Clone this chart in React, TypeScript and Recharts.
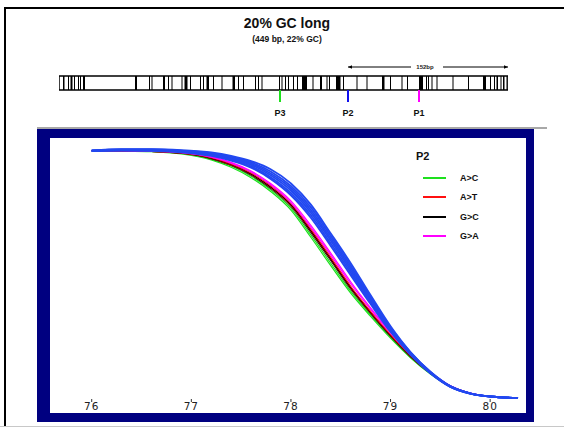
import React from 'react';
import {
  LineChart, Line, XAxis, YAxis, Legend,
  ComposedChart, ReferenceArea, ReferenceLine, Scatter,
} from 'recharts';

// ---------- barcode (sequence map) data, positions in bp ----------
const seqLength = 449;
const barStarts = [4, 9, 11.5, 15, 19, 21, 24, 76, 90, 92.5, 104, 109, 112.5, 122.5, 125.5, 131, 141, 144, 147.5, 154, 162.5, 173.5, 179, 184, 196, 199, 202.5, 220, 222.5, 226, 229, 234, 238, 243, 253.5, 261, 267.5, 270, 277, 284, 297.5, 307.5, 323, 331, 342.5, 348, 360, 367, 369, 372.5, 377.5, 393.5, 409, 424, 431, 435, 437.5, 441.5, 444, 447.5];
const barWidths = [1.5, 1, 2, 1, 1, 1, 2, 2, 1, 1, 2, 1, 1, 1, 3, 1, 1, 1, 2.5, 1, 1, 2.5, 1, 1, 1, 1, 1, 1, 1, 1, 1, 1, 1, 5, 1, 2, 1, 1, 4.5, 1, 1, 1, 2.5, 1, 1, 1, 4, 1, 1, 1, 1, 1, 1, 3, 1, 1, 1.5, 1, 1.5, 1];
const probeNames = ['P3', 'P2', 'P1'];
const probePositions = [221, 289, 360];
const probeColors = ['#1ee01e', '#1010ee', '#ff00ff'];
const spanStart = 289;
const spanEnd = 449;
const spanLabel = '152bp';
const spanLabelPos = 366;

// ---------- melt curve data ----------
const temps = [76.0, 76.3, 76.6, 76.9, 77.2, 77.4, 77.6, 77.8, 78.0, 78.2, 78.4, 78.6, 78.8, 79.0, 79.2, 79.4, 79.6, 79.8, 80.0, 80.28];
const green1 = [1.000, 0.999, 0.996, 0.987, 0.963, 0.933, 0.891, 0.834, 0.760, 0.650, 0.535, 0.424, 0.330, 0.242, 0.163, 0.097, 0.046, 0.019, 0.006, 0.000];
const green2 = [1.000, 0.999, 0.997, 0.989, 0.966, 0.938, 0.897, 0.841, 0.768, 0.660, 0.545, 0.432, 0.336, 0.246, 0.166, 0.099, 0.047, 0.019, 0.006, 0.000];
const red1 = [1.000, 0.999, 0.997, 0.990, 0.969, 0.942, 0.904, 0.850, 0.779, 0.674, 0.560, 0.444, 0.344, 0.252, 0.169, 0.100, 0.047, 0.019, 0.006, 0.000];
const red2 = [1.000, 1.000, 0.998, 0.992, 0.972, 0.947, 0.910, 0.857, 0.787, 0.683, 0.569, 0.452, 0.350, 0.256, 0.172, 0.102, 0.048, 0.019, 0.006, 0.000];
const black1 = [1.000, 0.999, 0.997, 0.990, 0.968, 0.941, 0.902, 0.847, 0.776, 0.670, 0.556, 0.441, 0.342, 0.250, 0.168, 0.100, 0.047, 0.019, 0.006, 0.000];
const black2 = [1.000, 1.000, 0.998, 0.991, 0.970, 0.944, 0.906, 0.852, 0.782, 0.677, 0.563, 0.447, 0.346, 0.253, 0.170, 0.101, 0.048, 0.019, 0.006, 0.000];
const magenta1 = [1.000, 1.000, 0.998, 0.992, 0.974, 0.950, 0.914, 0.861, 0.790, 0.690, 0.578, 0.462, 0.358, 0.262, 0.176, 0.104, 0.049, 0.020, 0.006, 0.000];
const magenta2 = [1.000, 1.000, 0.999, 0.993, 0.976, 0.953, 0.918, 0.866, 0.797, 0.698, 0.586, 0.470, 0.364, 0.266, 0.178, 0.105, 0.049, 0.020, 0.006, 0.000];
const blue1 = [1.000, 1.006, 1.006, 1.002, 0.993, 0.979, 0.958, 0.924, 0.868, 0.782, 0.665, 0.545, 0.415, 0.290, 0.186, 0.106, 0.048, 0.019, 0.006, 0.000];
const blue2 = [1.000, 1.005, 1.005, 1.000, 0.990, 0.975, 0.953, 0.915, 0.857, 0.771, 0.655, 0.535, 0.407, 0.285, 0.184, 0.105, 0.047, 0.019, 0.006, 0.000];
const blue3 = [1.000, 1.004, 1.004, 0.999, 0.988, 0.972, 0.948, 0.907, 0.848, 0.760, 0.645, 0.526, 0.400, 0.281, 0.182, 0.104, 0.047, 0.019, 0.006, 0.000];
const blue4 = [1.000, 1.003, 1.003, 0.998, 0.985, 0.968, 0.943, 0.900, 0.839, 0.750, 0.636, 0.517, 0.394, 0.277, 0.180, 0.103, 0.046, 0.018, 0.006, 0.000];
const blue5 = [1.000, 1.002, 1.001, 0.996, 0.982, 0.964, 0.937, 0.892, 0.829, 0.739, 0.625, 0.507, 0.387, 0.272, 0.178, 0.101, 0.046, 0.018, 0.006, 0.000];
const blue6 = [1.000, 1.001, 1.000, 0.994, 0.979, 0.960, 0.932, 0.885, 0.820, 0.729, 0.615, 0.497, 0.380, 0.268, 0.176, 0.100, 0.045, 0.018, 0.006, 0.000];
const xTicks = [76, 77, 78, 79, 80];

const legendTitle = 'P2';
const legendLabels = ['A>C', 'A>T', 'G>C', 'G>A'];
const legendColors = ['#1ee01e', '#ff1010', '#000000', '#ff00ff'];

const title = '20% GC long';
const subtitle = '(449 bp, 22% GC)';

const BLUE = '#2248f0';

const seriesList = [
  { key: 'g1', values: green1, color: legendColors[0] },
  { key: 'g2', values: green2, color: legendColors[0] },
  { key: 'k1', values: black1, color: legendColors[2] },
  { key: 'r1', values: red1, color: legendColors[1] },
  { key: 'k2', values: black2, color: legendColors[2] },
  { key: 'r2', values: red2, color: legendColors[1] },
  { key: 'm1', values: magenta1, color: legendColors[3] },
  { key: 'm2', values: magenta2, color: legendColors[3] },
  { key: 'b6', values: blue6, color: BLUE },
  { key: 'b5', values: blue5, color: BLUE },
  { key: 'b4', values: blue4, color: BLUE },
  { key: 'b3', values: blue3, color: BLUE },
  { key: 'b2', values: blue2, color: BLUE },
  { key: 'b1', values: blue1, color: BLUE },
];

const meltData = temps.map((t, i) => {
  const row: any = { t };
  seriesList.forEach((s) => { row[s.key] = s.values[i]; });
  return row;
});

const probeData = probeNames.map((name, i) => ({ pos: probePositions[i], y: 30, name, color: probeColors[i] }));
const arrowData = [
  { pos: spanStart, y: 7, dir: -1 },
  { pos: spanEnd, y: 7, dir: 1 },
];
const spanLabelData = [{ pos: spanLabelPos, y: 7, name: spanLabel }];

const FONT = '"Liberation Sans", Arial, sans-serif';

const ProbeShape = (props: any) => {
  const { cx, cy, payload } = props;
  return (
    <g>
      <line x1={cx} x2={cx} y1={cy} y2={cy + 12} stroke={payload.color} strokeWidth={2} />
      <text x={cx} y={cy + 26} textAnchor="middle" fontSize={9} fontWeight="bold" fontFamily={FONT} fill="#111">
        {payload.name}
      </text>
    </g>
  );
};

const ArrowHead = (props: any) => {
  const { cx, cy, payload } = props;
  const d = payload.dir;
  return <path d={`M${cx},${cy} L${cx - d * 4},${cy - 1.8} L${cx - d * 4},${cy + 1.8} Z`} fill="#000" />;
};

const SpanText = (props: any) => {
  const { cx, cy, payload } = props;
  return (
    <text x={cx} y={cy + 2.2} textAnchor="middle" fontSize={6} fontWeight="bold" fontFamily={FONT} fill="#222">
      {payload.name}
    </text>
  );
};

const MeltLegend = () => (
  <div style={{ position: 'relative', width: 140, height: 110, fontFamily: FONT, fontWeight: 'bold', color: '#111' }}>
    <div style={{ position: 'absolute', left: 0, top: 12, fontSize: 11, lineHeight: '13px' }}>{legendTitle}</div>
    {legendLabels.map((lab, i) => (
      <div key={lab} style={{ position: 'absolute', left: 0, top: 34 + i * 19.3, height: 12, width: 140 }}>
        <div style={{ position: 'absolute', left: 7, top: 5, width: 23, height: 2, background: legendColors[i] }} />
        <div style={{ position: 'absolute', left: 44, top: 0, fontSize: 9, lineHeight: '12px' }}>{lab}</div>
      </div>
    ))}
  </div>
);

export default function App() {
  return (
    <div style={{ position: 'absolute', left: 0, top: 0, width: 564, height: 427, overflow: 'hidden', background: '#fff', fontFamily: FONT }}>
      {/* outer frame */}
      <div style={{ position: 'absolute', left: 4, top: 7, width: 600, height: 430, borderTop: '2px solid #000', borderLeft: '2px solid #000' }} />
      <div style={{ position: 'absolute', left: 0, top: 426, width: 564, height: 1, background: '#c8c8c8' }} />

      {/* titles */}
      <div style={{ position: 'absolute', left: 0, width: 574, top: 15, textAlign: 'center', fontSize: 14, fontWeight: 'bold', lineHeight: '16px', color: '#111' }}>{title}</div>
      <div style={{ position: 'absolute', left: 0, width: 574, top: 34, textAlign: 'center', fontSize: 8.5, fontWeight: 'bold', lineHeight: '11px', color: '#111' }}>{subtitle}</div>

      {/* sequence map */}
      <div style={{ position: 'absolute', left: 59, top: 60 }}>
        <ComposedChart width={seqLength} height={60} margin={{ top: 0, right: 0, bottom: 0, left: 0 }} style={{ overflow: 'visible' }}>
          <XAxis type="number" dataKey="pos" domain={[0, seqLength]} hide allowDataOverflow />
          <YAxis type="number" dataKey="y" domain={[0, 60]} reversed hide allowDataOverflow />
          {barStarts.map((s, i) => (
            <ReferenceArea key={i} x1={s} x2={s + barWidths[i]} y1={16} y2={30} fill="#000" fillOpacity={1} stroke="none" ifOverflow="visible" />
          ))}
          <ReferenceArea x1={0} x2={seqLength} y1={16} y2={30} fill="none" stroke="#000" strokeWidth={1.5} ifOverflow="visible" />
          <ReferenceLine segment={[{ x: spanStart, y: 7 }, { x: 352, y: 7 }]} stroke="#000" strokeWidth={1} ifOverflow="visible" />
          <ReferenceLine segment={[{ x: 384, y: 7 }, { x: spanEnd, y: 7 }]} stroke="#000" strokeWidth={1} ifOverflow="visible" />
          <Scatter data={arrowData} shape={ArrowHead} isAnimationActive={false} />
          <Scatter data={spanLabelData} shape={SpanText} isAnimationActive={false} />
          <Scatter data={probeData} shape={ProbeShape} isAnimationActive={false} />
        </ComposedChart>
      </div>

      {/* melt curve panel */}
      <div style={{ position: 'absolute', left: 37, top: 127, width: 510, height: 2, background: '#a8a8a8' }} />
      <div style={{ position: 'absolute', left: 37, top: 129, width: 497, height: 293, background: '#000080' }} />
      <div style={{ position: 'absolute', left: 50, top: 138, width: 476, height: 275, background: '#fff' }}>
        <LineChart width={476} height={275} data={meltData} margin={{ top: 0, right: 0, bottom: 0, left: 0 }}>
          <XAxis
            type="number"
            dataKey="t"
            domain={[75.581, 80.36]}
            ticks={xTicks}
            allowDataOverflow
            axisLine={false}
            tickSize={3}
            tickMargin={1}
            height={14}
            tickLine={{ stroke: '#333' }}
            tick={{ fontSize: 10.5, fill: '#222', fontFamily: '"DejaVu Sans", sans-serif', letterSpacing: 1 }}
          />
          <YAxis type="number" domain={[-0.004, 1.0514]} hide allowDataOverflow />
          <Legend
            layout="vertical"
            align="center"
            verticalAlign="middle"
            content={MeltLegend}
            wrapperStyle={{ left: 366, top: 0, width: 140, height: 110 }}
          />
          {seriesList.map((s) => (
            <Line
              key={s.key}
              dataKey={s.key}
              type="monotone"
              stroke={s.color}
              strokeWidth={s.color === BLUE ? 1.9 : 1.2}
              dot={false}
              isAnimationActive={false}
              legendType="none"
            />
          ))}
        </LineChart>
      </div>
    </div>
  );
}
